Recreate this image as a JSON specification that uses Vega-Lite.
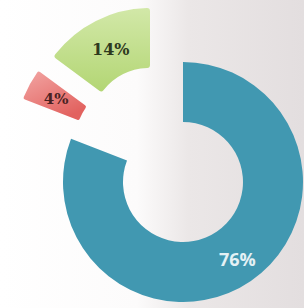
{
  "$schema": "https://vega.github.io/schema/vega-lite/v6.json",
  "width": 304,
  "height": 308,
  "autosize": {"type": "fit", "contains": "padding"},
  "padding": 0,
  "background": "#ffffff",
  "view": {"stroke": null, "fill": {"gradient": "linear", "x1": 0, "y1": 0, "x2": 1, "y2": 0, "stops": [{"offset": 0, "color": "#ffffff"}, {"offset": 0.45, "color": "#fcfbfb"}, {"offset": 0.62, "color": "#ebe7e7"}, {"offset": 1, "color": "#e3dedf"}]}},
  "data": {
    "values": [
      {"seg": "A", "value": 76, "label": "76%"},
      {"seg": "B", "value": 4, "label": "4%"},
      {"seg": "C", "value": 14, "label": "14%"}
    ]
  },
  "encoding": {
    "theta": {"field": "value", "type": "quantitative", "stack": true},
    "order": {"field": "seg", "type": "ordinal", "sort": "ascending"}
  },
  "layer": [
    {
      "mark": {"type": "arc", "innerRadius": 60, "outerRadius": 120, "xOffset": 31, "yOffset": 28, "fill": "#4198b1"},
      "encoding": {"opacity": {"condition": {"test": "datum.seg === 'A'", "value": 1}, "value": 0}}
    },
    {
      "mark": {"type": "text", "radius": 96, "xOffset": 31, "yOffset": 28, "font": "Open Sans", "fontWeight": "bold", "fontSize": 18, "fill": "#e4f1f5"},
      "encoding": {"text": {"condition": {"test": "datum.seg === 'A'", "field": "label"}, "value": ""}}
    },
    {
      "mark": {"type": "arc", "innerRadius": 60, "outerRadius": 120, "xOffset": -17, "yOffset": -12, "cornerRadius": 2,
        "fill": {"gradient": "linear", "x1": 0, "y1": 0, "x2": 0.6, "y2": 1, "stops": [{"offset": 0, "color": "#f2a5a3"}, {"offset": 1, "color": "#e2625f"}]}},
      "encoding": {"opacity": {"condition": {"test": "datum.seg === 'B'", "value": 1}, "value": 0}}
    },
    {
      "mark": {"type": "text", "radius": 90, "xOffset": -17, "yOffset": -12, "font": "DejaVu Serif", "fontWeight": "bold", "fontSize": 15, "fill": "#4a2222"},
      "encoding": {"text": {"condition": {"test": "datum.seg === 'B'", "field": "label"}, "value": ""}}
    },
    {
      "mark": {"type": "arc", "innerRadius": 60, "outerRadius": 120, "xOffset": -2, "yOffset": -26, "cornerRadius": 3,
        "fill": {"gradient": "linear", "x1": 0, "y1": 0, "x2": 0, "y2": 1, "stops": [{"offset": 0, "color": "#d2e8a8"}, {"offset": 1, "color": "#b3d674"}]}},
      "encoding": {"opacity": {"condition": {"test": "datum.seg === 'C'", "value": 1}, "value": 0}}
    },
    {
      "mark": {"type": "text", "radius": 87, "xOffset": -2, "yOffset": -26, "font": "DejaVu Serif", "fontWeight": "bold", "fontSize": 16, "fill": "#2e3a1e"},
      "encoding": {"text": {"condition": {"test": "datum.seg === 'C'", "field": "label"}, "value": ""}}
    }
  ]
}
